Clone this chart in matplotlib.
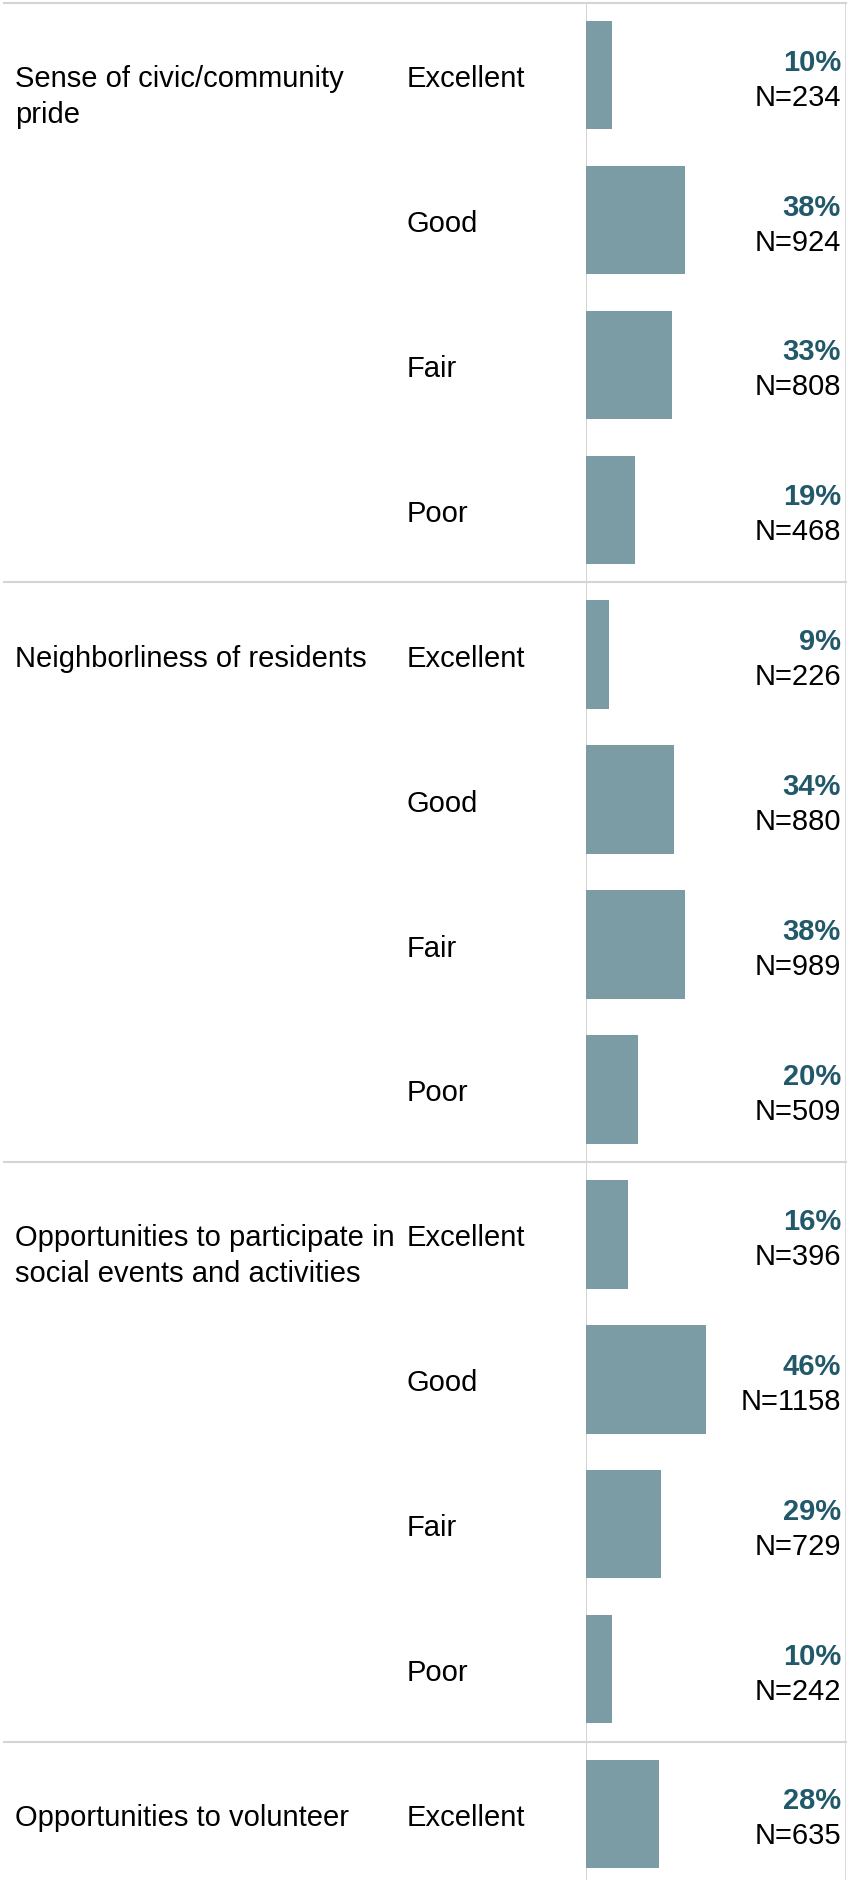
import matplotlib
matplotlib.use("Agg")
import matplotlib.pyplot as plt
from matplotlib.transforms import blended_transform_factory
from matplotlib.lines import Line2D

plt.rcParams['font.family'] = ['Liberation Sans', 'DejaVu Sans']

# ---- data ----
groups = [
    "Sense of civic/community\npride",
    "Neighborliness of residents",
    "Opportunities to participate in\nsocial events and activities",
    "Opportunities to volunteer",
]
ratings = ["Excellent", "Good", "Fair", "Poor"]
pct_civic = [10, 38, 33, 19]
n_civic = [234, 924, 808, 468]
pct_neighbor = [9, 34, 38, 20]
n_neighbor = [226, 880, 989, 509]
pct_social = [16, 46, 29, 10]
n_social = [396, 1158, 729, 242]
pct_volunteer = [28]
n_volunteer = [635]

group_pcts = [pct_civic, pct_neighbor, pct_social, pct_volunteer]
group_ns = [n_civic, n_neighbor, n_social, n_volunteer]

# ---- style ----
BAR_COLOR = "#7b9ca5"
PCT_COLOR = "#21596a"
GRID_COLOR = "#d4d4d4"
FS = 21

W, H = 857, 1881
TOP = 3.7
PITCH = 144.9
X0, X1 = 586, 846

fig = plt.figure(figsize=(W / 100, H / 100), dpi=100)
fig.patch.set_facecolor("white")
ax = fig.add_axes([X0 / W, 0, (X1 - X0) / W, (H - TOP) / H])
nrows = (H - TOP) / PITCH
ax.set_xlim(0, 100)
ax.set_ylim(-0.5 + nrows, -0.5)
ax.axis("off")

trans = blended_transform_factory(fig.transFigure, ax.transData)

def px(v):
    return v / PITCH

row = 0
for g, (label, pcts, ns) in enumerate(zip(groups, group_pcts, group_ns)):
    start = row
    # group label (lines)
    for li, line in enumerate(label.split("\n")):
        ax.text(15 / W, start + px(11 + 35.5 * li), line, transform=trans,
                ha="left", va="baseline", fontsize=FS, color="black", clip_on=False)
    for r, (p, n) in enumerate(zip(pcts, ns)):
        y = row
        ax.barh(y, p, height=0.75, color=BAR_COLOR, zorder=2)
        ax.text(407 / W, y + px(11), ratings[r], transform=trans,
                ha="left", va="baseline", fontsize=FS, color="black", clip_on=False)
        ax.text(841 / W, y + px(-5.5), f"{p}%", transform=trans,
                ha="right", va="baseline", fontsize=FS, fontweight="bold",
                color=PCT_COLOR, clip_on=False)
        ax.text(841 / W, y + px(29.5), f"N={n}", transform=trans,
                ha="right", va="baseline", fontsize=FS, color="black", clip_on=False)
        row += 1
    # separator line at top of group
    fig.add_artist(Line2D([4 / W, X1 / W], [start - 0.5, start - 0.5],
                          transform=trans, color=GRID_COLOR, lw=1.5, zorder=1))

ax.axvline(0, color=GRID_COLOR, lw=1.5, zorder=1)
ax.axvline(100, color=GRID_COLOR, lw=1.2, zorder=1)

fig.savefig("out.png", dpi=100, facecolor="white")
